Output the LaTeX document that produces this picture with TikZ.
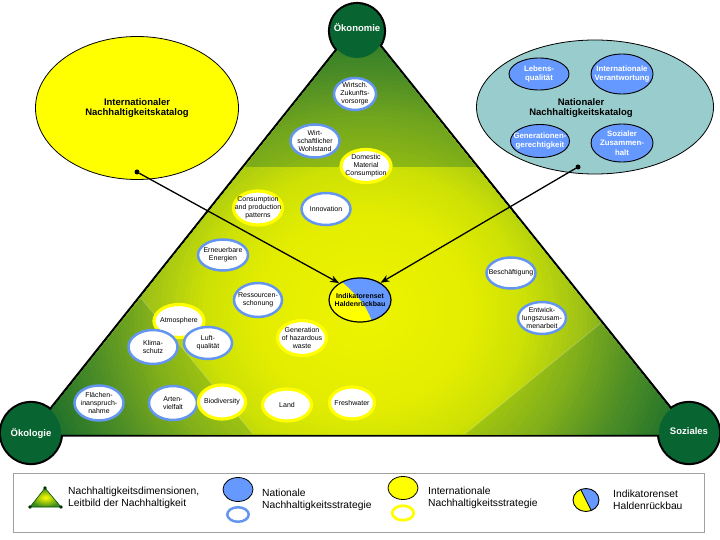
\documentclass[tikz,border=0pt]{standalone}
\usepackage{fontspec}
\setmainfont{Liberation Sans}
\usetikzlibrary{shapes.geometric,arrows.meta}
\definecolor{natblue}{RGB}{100,150,240}
\definecolor{natfill}{RGB}{102,153,255}
\definecolor{intyel}{RGB}{255,255,0}
\definecolor{cgreen}{RGB}{8,100,48}
\definecolor{tealfill}{RGB}{153,204,204}
\definecolor{legframe}{RGB}{160,160,160}
\definecolor{legtri}{RGB}{60,140,30}
\definecolor{sa}{RGB}{238,245,0}
\definecolor{sb}{RGB}{228,237,0}
\definecolor{sc}{RGB}{205,225,5}
\definecolor{sd}{RGB}{160,195,22}
\definecolor{se}{RGB}{100,155,35}
\definecolor{sf}{RGB}{40,118,42}
\definecolor{sg}{RGB}{15,100,46}
\begin{document}
\begin{tikzpicture}[x=1pt,y=-1pt,
  bub/.style={ellipse, fill=white, inner sep=0pt, minimum width=49pt, minimum height=33pt},
  nat/.style={bub, draw=natblue, line width=2.5pt},
  intl/.style={bub, draw=intyel, line width=3.2pt},
  lbl/.style={font=\fontsize{7}{8}\selectfont, align=center, inner sep=0pt, text=black},
  cornerfill/.style={circle, fill=cgreen, inner sep=0pt, minimum size=#1},
  cornertxt/.style={font=\bfseries\fontsize{9.5}{11}\selectfont, text=white, inner sep=0pt},
  catlbl/.style={font=\bfseries\fontsize{9.5}{10.7}\selectfont, align=center, inner sep=0pt},
  inner/.style={ellipse, draw=black, line width=0.9pt, fill=natfill, inner sep=0pt},
  innerlbl/.style={font=\bfseries\fontsize{7.8}{9.5}\selectfont, align=center, text=white, inner sep=0pt},
  dot/.style={circle, fill=black, inner sep=0pt, minimum size=5pt},
  arr/.style={line width=1.3pt, -{Stealth[length=9pt,width=7pt]}},
  legtxt/.style={font=\fontsize{10.3}{11.8}\selectfont, align=left, anchor=west, inner sep=0pt},
]
\useasboundingbox (0,0) rectangle (720,540);
\fill[white] (0,0) rectangle (720,540);

% ---- triangle with corner circles: outlines first
\coordinate (A) at (360,22);
\coordinate (B) at (32,434);
\coordinate (C) at (690,434);
\draw[line width=5pt, line join=round] (A) -- (B) -- (C) -- cycle;
\draw[line width=4.2pt] (357,31) circle (27pt);
\draw[line width=4.2pt] (31,433) circle (30pt);
\draw[line width=4.2pt] (689,433) circle (30pt);

\begin{scope}
  \clip (A) -- (B) -- (C) -- cycle;
  \foreach \ra/\rb/\ca/\cb in {450/335/sg/sf, 335/272/sf/se, 272/218/se/sd, 218/163/sd/sc, 163/108/sc/sb, 108/0/sb/sa} {
    \foreach \k in {0,...,11} {
      \pgfmathsetmacro\rr{\ra-(\ra-\rb)*\k/12}
      \pgfmathsetmacro\ry{0.9*\rr}
      \pgfmathtruncatemacro\pp{\k*100/12}
      \fill[\cb!\pp!\ca] (365,312) ellipse [x radius=\rr pt, y radius=\ry pt];
    }
  }
  \fill[cgreen, opacity=0.3] (0,0) rectangle (720,167);
  \fill[cgreen, opacity=0.2] (B) -- (141,298) -- (253,434) -- cycle;
  \fill[cgreen, opacity=0.2] (465,434) -- (601,323) -- (C) -- cycle;
  \draw[white, opacity=0.2, line width=1pt] (253,434) -- (141,298);
  \draw[white, opacity=0.2, line width=1pt] (465,434) -- (601,323);
\end{scope}

\node[cornerfill=54pt, label={[cornertxt, yshift=4pt]center:Ökonomie}] (oek) at (357,31) {};
\node[cornerfill=60pt, label={[cornertxt]center:Ökologie}] (okol) at (31,433) {};
\node[cornerfill=60pt, label={[cornertxt, yshift=2pt]center:Soziales}] (soz) at (689,433) {};

% ---- catalogues
\node[ellipse, draw=black, line width=0.8pt, fill=intyel, minimum width=203pt, minimum height=143pt,
      label={[catlbl]center:Internationaler\\Nachhaltigkeitskatalog}] (intcat) at (137,108) {};
\node[ellipse, draw=black, line width=0.8pt, fill=tealfill, minimum width=237pt, minimum height=134pt] (natcat) at (595,107) {};
\node[catlbl] (natcatlbl) at (581,108) {Nationaler\\Nachhaltigkeitskatalog};
\node[inner, minimum width=60pt, minimum height=32pt, label={[innerlbl]center:Lebens-\\qualität}] (leb) at (539,74) {};
\node[inner, minimum width=62pt, minimum height=40pt, label={[innerlbl]center:Internationale\\Verantwortung}] (iv) at (622,74) {};
\node[inner, minimum width=59pt, minimum height=33pt, label={[innerlbl]center:Generationen-\\gerechtigkeit}] (gg) at (540,141) {};
\node[inner, minimum width=62pt, minimum height=38pt, label={[innerlbl]center:Sozialer\\Zusammen-\\halt}] (sz) at (622,143) {};

% ---- bubbles
\node[nat, minimum width=42pt, minimum height=32pt, label={[lbl]center:Wirtsch.\\Zukunfts-\\vorsorge}] (wz) at (355,94) {};
\node[nat, minimum width=49pt, minimum height=33pt, label={[lbl]center:Wirt-\\schaftlicher\\Wohlstand}] (ww) at (315,141) {};
\node[intl, minimum width=50pt, minimum height=33pt, label={[lbl]center:Domestic\\Material\\Consumption}] (dmc) at (366,166) {};
\node[intl, minimum width=49pt, minimum height=34pt, label={[lbl]center:Consumption\\and production\\patterns}] (cpp) at (258,208) {};
\node[nat, minimum width=49pt, minimum height=32pt, label={[lbl]center:Innovation}] (inn) at (326,209) {};
\node[nat, minimum width=50pt, minimum height=31pt, label={[lbl]center:Erneuerbare\\Energien}] (ee) at (223,255) {};
\node[nat, minimum width=48pt, minimum height=34pt, label={[lbl]center:Ressourcen-\\schonung}] (rs) at (258,300) {};
\node[intl, minimum width=50pt, minimum height=33pt, label={[lbl]center:Atmosphere}] (atm) at (179,321) {};
\node[nat, minimum width=49pt, minimum height=34pt, label={[lbl]center:Klima-\\schutz}] (kl) at (153,347) {};
\node[nat, minimum width=48pt, minimum height=32pt, label={[lbl]center:Luft-\\qualität}] (lq) at (208,343) {};
\node[intl, minimum width=49pt, minimum height=35pt, label={[lbl]center:Generation\\of hazardous\\waste}] (gen) at (302,338) {};
\node[nat, minimum width=49pt, minimum height=35pt, label={[lbl]center:Flächen-\\inanspruch-\\nahme}] (fl) at (99,403) {};
\node[nat, minimum width=48pt, minimum height=34pt, label={[lbl]center:Arten-\\vielfalt}] (av) at (173,403) {};
\node[intl, minimum width=47pt, minimum height=34pt, label={[lbl]center:Biodiversity}] (bio) at (222,402) {};
\node[intl, minimum width=49pt, minimum height=32pt, label={[lbl]center:Land}] (land) at (287,405) {};
\node[intl, minimum width=45pt, minimum height=32pt, label={[lbl]center:Freshwater}] (fw) at (352,403) {};
\node[nat, minimum width=49pt, minimum height=31pt, label={[lbl]center:Beschäftigung}] (be) at (511,273) {};
\node[nat, minimum width=48pt, minimum height=32pt, label={[lbl]center:Entwick-\\lungszusam-\\menarbeit}] (ez) at (542,318) {};

% ---- central indicator set
\begin{scope}
  \clip (360,300) ellipse [x radius=31pt, y radius=22pt];
  \fill[intyel] (320,270) rectangle (400,330);
  \fill[natfill] (334,275) .. controls (352,290) and (362,300) .. (368,312)
                 .. controls (371,318) .. (374,330) -- (400,330) -- (400,270) -- cycle;
\end{scope}
\node[ellipse, draw=black, line width=1.2pt, inner sep=0pt, minimum width=62pt, minimum height=44pt,
      label={[font=\bfseries\fontsize{7}{8.3}\selectfont, align=center, inner sep=0pt]center:Indikatorenset\\Haldenrückbau}] (ind) at (360,300) {};

% ---- arrows
\node[dot] (ldot) at (137,172) {};
\node[dot] (rdot) at (578,167) {};
\draw[arr] (ldot) -- (ind.141);
\draw[arr] (rdot) -- (ind.40);

% ---- legend
\draw[legframe, line width=0.8pt, fill=white] (13,473) rectangle (704,532);
\coordinate (t1) at (45,488);
\coordinate (t2) at (30,507);
\coordinate (t3) at (61,507);
\shade[inner color=intyel, outer color=legtri] (t1) -- (t2) -- (t3) -- cycle;
\draw[black!70!green, line width=0.6pt] (t1) -- (t2) -- (t3) -- cycle;
\foreach \p in {t1,t2,t3} \fill[black!80!green] (\p) circle (1.8pt);
\node[legtxt] (lt1) at (68,497.5) {Nachhaltigkeitsdimensionen,\\Leitbild der Nachhaltigkeit};

\node[ellipse, draw=black, line width=0.8pt, fill=natfill, minimum width=30pt, minimum height=24pt] (lnf) at (238,489.5) {};
\node[ellipse, draw=natblue, line width=2.5pt, fill=white, minimum width=21.5pt, minimum height=14.5pt] (lnr) at (238,514.5) {};
\node[legtxt] (lt2) at (262,500) {Nationale\\Nachhaltigkeitsstrategie};

\node[ellipse, draw=black, line width=0.8pt, fill=intyel, minimum width=30pt, minimum height=23pt] (lif) at (403,488) {};
\node[ellipse, draw=intyel, line width=2.8pt, fill=white, minimum width=21.5pt, minimum height=14.5pt] (lir) at (403,513) {};
\node[legtxt] (lt3) at (428,497.5) {Internationale\\Nachhaltigkeitsstrategie};

\begin{scope}
  \clip (586,500) ellipse [x radius=13pt, y radius=11.5pt];
  \fill[intyel] (570,485) rectangle (602,515);
  \fill[natfill] (579,486) -- (593,514) -- (602,515) -- (602,485) -- cycle;
  \draw[black, line width=0.8pt] (579,486) -- (593,514);
\end{scope}
\node[ellipse, draw=black, line width=0.9pt, inner sep=0pt, minimum width=26pt, minimum height=23pt] (lind) at (586,500) {};
\node[legtxt] (lt4) at (613,500) {Indikatorenset\\Haldenrückbau};
\end{tikzpicture}
\end{document}
